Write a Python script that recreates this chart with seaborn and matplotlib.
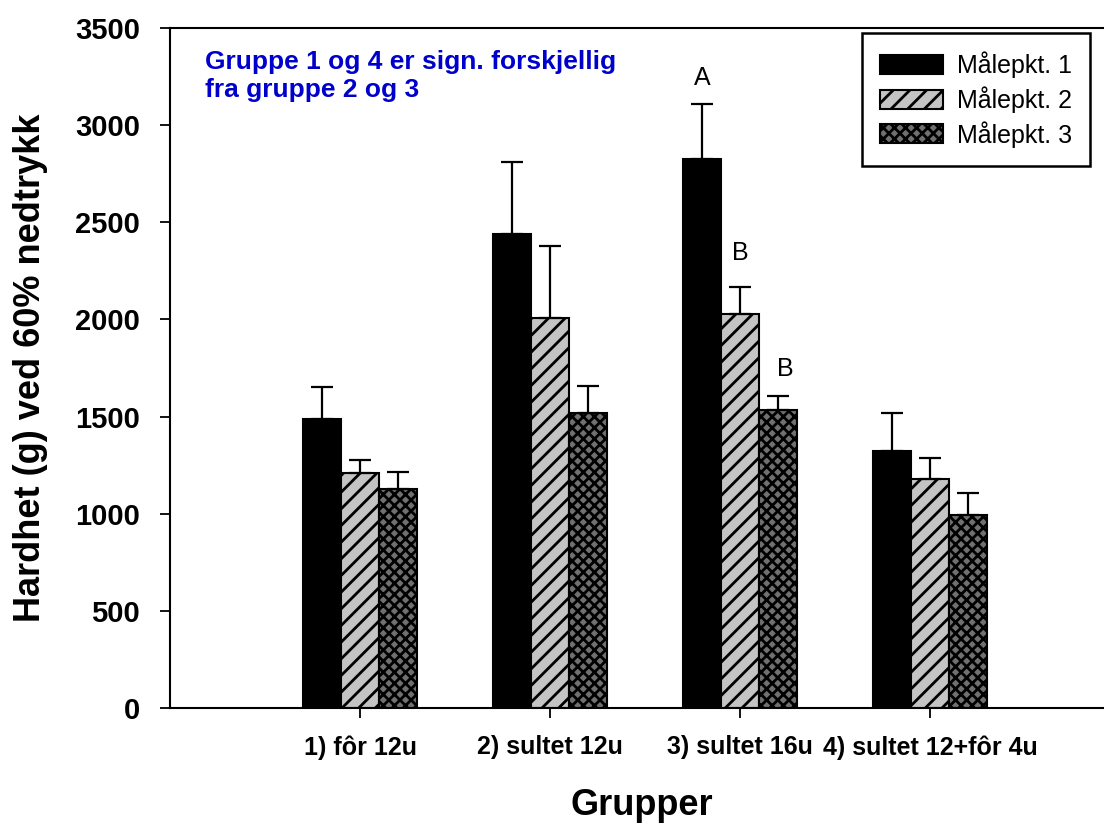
import matplotlib
matplotlib.use("Agg")
import matplotlib.pyplot as plt
import seaborn as sns
import pandas as pd
import numpy as np

# ---- data ----
groups = ["1) fôr 12u", "2) sultet 12u", "3) sultet 16u", "4) sultet 12+fôr 4u"]
points = ["Målepkt. 1", "Målepkt. 2", "Målepkt. 3"]
mp1 = [1490, 2440, 2825, 1325]
mp2 = [1210, 2005, 2030, 1180]
mp3 = [1128, 1520, 1535, 995]
err1 = [160, 370, 283, 195]
err2 = [68, 375, 135, 105]
err3 = [88, 135, 73, 112]
letters = [("3) sultet 16u", "Målepkt. 1", "A"),
           ("3) sultet 16u", "Målepkt. 2", "B"),
           ("3) sultet 16u", "Målepkt. 3", "B")]
note = "Gruppe 1 og 4 er sign. forskjellig\nfra gruppe 2 og 3"
ylabel = "Hardhet (g) ved 60% nedtrykk"
xlabel = "Grupper"
yticks = [0, 500, 1000, 1500, 2000, 2500, 3000, 3500]

values = [mp1, mp2, mp3]
errors = [err1, err2, err3]
df = pd.DataFrame({
    "group": np.repeat([groups], 3, axis=0).ravel(),
    "point": np.repeat(points, len(groups)),
    "value": np.concatenate(values),
})

# ---- style ----
sns.set_style("ticks", {"text.color": "black", "axes.labelcolor": "black",
                        "xtick.color": "black", "ytick.color": "black",
                        "axes.edgecolor": "black"})
plt.rcParams["font.family"] = ["Liberation Sans", "DejaVu Sans"]
plt.rcParams["hatch.linewidth"] = 2.0
plt.rcParams["hatch.color"] = "black"

fig = plt.figure(figsize=(11.04, 8.25), dpi=100)
ax = fig.add_axes([170 / 1104, 1 - 708 / 825, 950 / 1104, 680 / 825])

face = ["#000000", "#c4c4c4", "#707070"]
hatches = [None, "//", "xxx"]

sns.barplot(data=df, x="group", y="value", hue="point", order=groups,
            hue_order=points, palette=face, width=0.6, errorbar=None,
            edgecolor="black", linewidth=1.5, saturation=1, ax=ax, legend=False)

bar_containers = list(ax.containers)
for cont, h in zip(bar_containers, hatches):
    for p in cont:
        if h:
            p.set_hatch(h)
        p.set_edgecolor("black")

for cont, err in zip(bar_containers, errors):
    xs = [p.get_x() + p.get_width() / 2 for p in cont]
    ys = [p.get_height() for p in cont]
    ax.errorbar(xs, ys, yerr=[np.zeros(len(err)), err], fmt="none",
                ecolor="black", elinewidth=1.6, capsize=8, capthick=1.6, zorder=1)

# significance letters
for (g, pt, lab) in letters:
    gi = groups.index(g)
    pi = points.index(pt)
    p = bar_containers[pi][gi]
    x = p.get_x() + p.get_width() / 2
    y = values[pi][gi] + errors[pi][gi]
    dx = 5 if pi == 2 else 0
    ax.annotate(lab, (x, y), xytext=(dx, 19 if pi != 1 else 25), textcoords="offset points",
                ha="center", va="center", fontsize=18, color="black")

ax.set_xlim(-1, 4)
ax.set_ylim(0, 3500)
ax.set_yticks(yticks)
ax.set_yticklabels([str(t) for t in yticks], fontsize=21, fontweight="bold")
ax.set_xticks(range(len(groups)))
ax.set_xticklabels(groups, fontsize=18, fontweight="bold")
ax.tick_params(axis="both", direction="out", length=7.5, width=1.3, color="black",
               labelcolor="black")
ax.tick_params(axis="y", pad=14)
ax.tick_params(axis="x", pad=12)

for s in ["left", "bottom", "top", "right"]:
    ax.spines[s].set_visible(True)
    ax.spines[s].set_linewidth(1.5)
    ax.spines[s].set_color("black")

ax.set_ylabel(ylabel, fontsize=26, fontweight="bold", color="black")
ax.yaxis.label.set_verticalalignment("center")
ax.yaxis.set_label_coords(-0.147, 0.5)
ax.set_xlabel(xlabel, fontsize=26, fontweight="bold", color="black")
ax.xaxis.label.set_verticalalignment("center")
ax.xaxis.set_label_coords(0.497, -0.143)

ax.text(0.037, 0.968, note, transform=ax.transAxes, ha="left", va="top",
        fontsize=19, fontweight="bold", color="#0000CC", linespacing=1.22)

leg = ax.legend(bar_containers, points, loc="upper left",
                bbox_to_anchor=(0.728, 0.993), borderaxespad=0, fontsize=18,
                frameon=True, fancybox=False, shadow=False, framealpha=1,
                edgecolor="black", borderpad=0.75, handlelength=2.5,
                handleheight=0.8, handletextpad=0.55, labelspacing=0.32)
leg.get_frame().set_linewidth(1.8)
for t in leg.get_texts():
    t.set_color("black")

fig.savefig("out.png", dpi=100)
